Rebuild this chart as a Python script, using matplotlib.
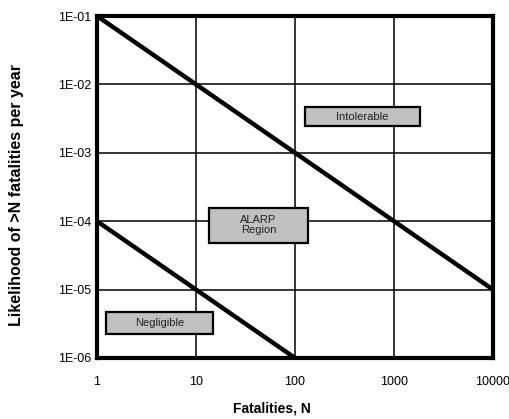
import matplotlib.pyplot as plt
from matplotlib.patches import Rectangle

plt.rcParams['font.family'] = ['Liberation Sans', 'DejaVu Sans']

# criterion lines (N, frequency)
upper_n = [1, 10000]
upper_f = [1e-1, 1e-5]
lower_n = [1, 100]
lower_f = [1e-4, 1e-6]

x_ticks = [1, 10, 100, 1000, 10000]
x_labels = ["1", "10", "100", "1000", "10000"]
y_ticks = [1e-6, 1e-5, 1e-4, 1e-3, 1e-2, 1e-1]
y_labels = ["1E-06", "1E-05", "1E-04", "1E-03", "1E-02", "1E-01"]

# region labels: text, box in axes fraction (x0, y0, x1, y1)
regions = [
    ("Intolerable", (0.525, 0.678, 0.816, 0.734)),
    ("ALARP\nRegion", (0.283, 0.336, 0.533, 0.439)),
    ("Negligible", (0.023, 0.070, 0.293, 0.134)),
]

fig = plt.figure(figsize=(5.09, 4.19), dpi=100)
ax = fig.add_axes([0.1906, 0.1456, 0.778, 0.8162])
ax.set_xscale('log')
ax.set_yscale('log')
ax.set_xlim(1, 10000)
ax.set_ylim(1e-6, 1e-1)

ax.plot(upper_n, upper_f, color='black', linewidth=3.2, solid_capstyle='butt', zorder=3)
ax.plot(lower_n, lower_f, color='black', linewidth=3.2, solid_capstyle='butt', zorder=3)

ax.set_xticks(x_ticks)
ax.set_xticklabels(x_labels)
ax.set_yticks(y_ticks)
ax.set_yticklabels(y_labels)
ax.minorticks_off()
ax.tick_params(length=0, labelsize=9)
ax.tick_params(axis='x', pad=13)
ax.tick_params(axis='y', pad=4)
ax.grid(True, color='black', linewidth=1.1)
ax.set_axisbelow(True)

for s in ax.spines.values():
    s.set_linewidth(3)
    s.set_zorder(4)

for text, (x0, y0, x1, y1) in regions:
    ax.add_patch(Rectangle((x0, y0), x1 - x0, y1 - y0, transform=ax.transAxes,
                           facecolor='#c0c0c0', edgecolor='black', linewidth=1.6, zorder=5))
    ax.text((x0 + x1) / 2, (y0 + y1) / 2, text, transform=ax.transAxes,
            ha='center', va='center', fontsize=8, color='#222222', zorder=6,
            linespacing=1.0)

fig.text(0.534, 0.025, "Fatalities, N", ha='center', va='center',
         fontsize=10, fontweight='bold')
fig.text(0.032, 0.535, "Likelihood of >N fatalities per year", rotation=90,
         ha='center', va='center', fontsize=11.5, fontweight='bold')

fig.savefig("out.png", dpi=100)
